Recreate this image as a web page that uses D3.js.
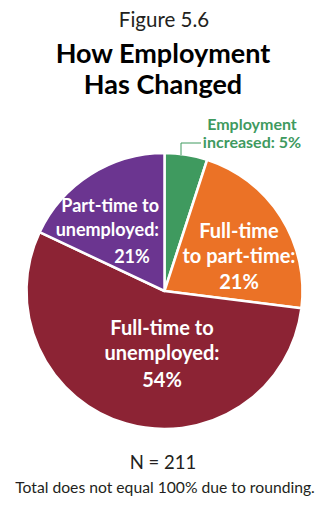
<!DOCTYPE html>
<html>
<head>
<meta charset="utf-8">
<script src="https://cdn.jsdelivr.net/npm/d3@7"></script>
<style>
  body { margin: 0; background: #fff; }
  svg { display: block; font-family: Lato, "Open Sans", sans-serif; }
</style>
</head>
<body>
<svg width="327" height="511"></svg>
<script>
// slice shares as drawn (clockwise from 12 o'clock)
const categories = ['Employment increased', 'Full-time to part-time', 'Full-time to unemployed', 'Part-time to unemployed'];
const shares = [5, 22, 55, 18];
const pctLabels = ['5%', '21%', '54%', '21%'];
const colors = ['#3f9a5f', '#eb7226', '#8c2334', '#6b3590'];

const svg = d3.select('svg');

const cx = 164.5, cy = 291, r = 138;

const pie = d3.pie().sort(null).value(d => d.share);
const arc = d3.arc().innerRadius(0).outerRadius(r);

const data = categories.map((c, i) => ({ name: c, share: shares[i], pct: pctLabels[i], color: colors[i] }));

const g = svg.append('g').attr('transform', `translate(${cx},${cy})`);

g.selectAll('path')
  .data(pie(data))
  .join('path')
  .attr('d', arc)
  .attr('fill', d => d.data.color)
  .attr('stroke', '#fff')
  .attr('stroke-width', 2.5)
  .attr('stroke-linejoin', 'round');

// titles
svg.append('text').attr('x', 164).attr('y', 27).attr('text-anchor', 'middle')
  .attr('font-size', 20.5).attr('fill', '#231f20').text('Figure 5.6');
svg.append('text').attr('x', 163).attr('y', 63).attr('text-anchor', 'middle')
  .attr('font-size', 27).attr('font-weight', 'bold').attr('fill', '#000').text('How Employment');
svg.append('text').attr('x', 163).attr('y', 94).attr('text-anchor', 'middle')
  .attr('font-size', 27).attr('font-weight', 'bold').attr('fill', '#000').text('Has Changed');

// slice labels
function lines(x, ys, texts, size, color, anchors) {
  texts.forEach((t, i) => {
    svg.append('text').attr('x', Array.isArray(x) ? x[i] : x).attr('y', ys[i])
      .attr('text-anchor', anchors ? anchors[i] : 'middle')
      .attr('font-size', size).attr('font-weight', 'bold').attr('fill', color).text(t);
  });
}

// green, outside with leader
lines(252, [130, 148], ['Employment', 'increased: ' + data[0].pct], 16, '#3f9a5f');
svg.append('polyline')
  .attr('points', '181,155 181,143 201,143')
  .attr('fill', 'none').attr('stroke', '#3f9a5f').attr('stroke-width', 1);

lines(239, [238, 263, 289], ['Full-time', 'to part-time:', data[1].pct], 20, '#fff');
lines(162, [335, 360, 387], ['Full-time to', 'unemployed:', data[2].pct], 20, '#fff');
lines([159, 159, 132], [212, 236, 263], ['Part-time to', 'unemployed:', data[3].pct], 18, '#fff', ['end', 'end', 'middle']);

// footer
svg.append('text').attr('x', 163).attr('y', 469).attr('text-anchor', 'middle')
  .attr('font-size', 18.5).attr('fill', '#231f20').text('N = 211');
svg.append('text').attr('x', 165).attr('y', 493).attr('text-anchor', 'middle')
  .attr('font-size', 15.7).attr('fill', '#231f20').text('Total does not equal 100% due to rounding.');
</script>
</body>
</html>
